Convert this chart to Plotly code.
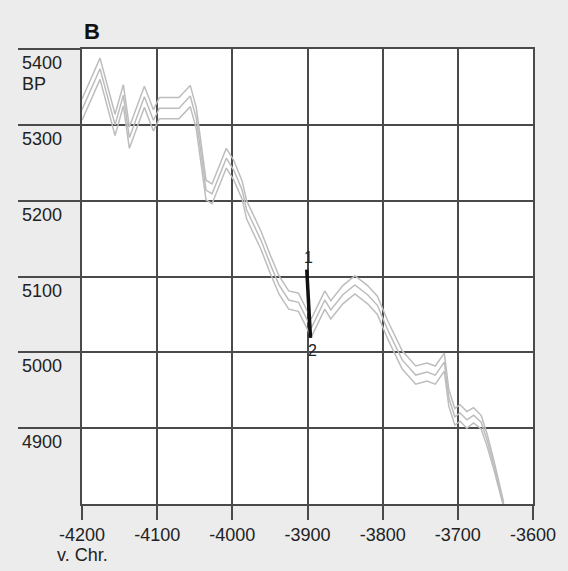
import plotly.graph_objects as go

# Calibration curve (middle line)
cal_bc = [-4200, -4176, -4156, -4145, -4137, -4117, -4105, -4097, -4071, -4056, -4048,
          -4035, -4027, -4008, -3998, -3987, -3981, -3969, -3962, -3949, -3938, -3925,
          -3912, -3895, -3877, -3869, -3853, -3837, -3820, -3807, -3793, -3774, -3756,
          -3741, -3730, -3718, -3712, -3704, -3697, -3688, -3679, -3669, -3661, -3652,
          -3644, -3639]
cal_bp = [5320, 5374, 5300, 5339, 5283, 5337, 5306, 5322, 5322, 5338, 5309,
          5214, 5209, 5256, 5240, 5214, 5188, 5164, 5148, 5115, 5089, 5069,
          5066, 5032, 5069, 5056, 5076, 5089, 5076, 5062, 5029, 4990, 4970,
          4974, 4970, 4987, 4940, 4915, 4920, 4911, 4917, 4908, 4884, 4851,
          4818, 4799]
cal_err = [14, 14, 14, 14, 14, 14, 14, 14, 14, 14, 14,
           13, 13, 13, 13, 12, 12, 12, 12, 12, 12, 12,
           12, 12, 12, 12, 12, 12, 12, 12, 12, 12, 12,
           12, 12, 12, 11, 11, 11, 11, 10, 9, 8, 6,
           4, 3]

# Measured sample range (black bar with end labels)
sample_bc = [-3901, -3896]
sample_bp = [5109, 5019]
sample_labels = ["1", "2"]

x_ticks = [-4200, -4100, -4000, -3900, -3800, -3700, -3600]
x_labels = ["-4200", "-4100", "-4000", "-3900", "-3800", "-3700", "-3600"]
y_ticks = [4900, 5000, 5100, 5200, 5300, 5400]
y_labels = ["4900", "5000", "5100", "5200", "5300", "5400"]

FONT = "Liberation Sans, Arial, sans-serif"
GRID = "#4a4a4a"
CURVE = "#bdbdbd"
TXT = "#222222"

fig = go.Figure()
upper = [b + e for b, e in zip(cal_bp, cal_err)]
lower = [b - e for b, e in zip(cal_bp, cal_err)]
for ys in (upper, cal_bp, lower):
    fig.add_trace(go.Scatter(x=cal_bc, y=ys, mode="lines",
                             line=dict(color=CURVE, width=1.5), hoverinfo="skip",
                             showlegend=False))

fig.add_trace(go.Scatter(x=sample_bc, y=sample_bp, mode="lines",
                         line=dict(color="#111", width=3.5), showlegend=False))

annotations = []
for bx, by, t, ys in zip(sample_bc, sample_bp, sample_labels, (12, -13)):
    annotations.append(dict(xref="x", yref="y", x=bx + 2, y=by, text=t,
                            showarrow=False, xanchor="center", yanchor="middle", yshift=ys,
                            font=dict(family=FONT, size=16, color=TXT)))
for v, t in zip(y_ticks, y_labels):
    annotations.append(dict(xref="paper", yref="y", x=-0.137, y=v, text=t,
                            showarrow=False, xanchor="left", yanchor="top", yshift=-2,
                            font=dict(family=FONT, size=18, color=TXT)))
annotations.append(dict(xref="paper", yref="y", x=-0.137, y=5400, text="BP",
                        showarrow=False, xanchor="left", yanchor="top", yshift=-23,
                        font=dict(family=FONT, size=18, color=TXT)))
annotations.append(dict(xref="x", yref="paper", x=-4200, y=0, text="v. Chr.",
                        showarrow=False, xanchor="center", yanchor="top", yshift=-39,
                        font=dict(family=FONT, size=18, color=TXT)))
annotations.append(dict(xref="paper", yref="paper", x=0.0, y=1.0, text="<b>B</b>",
                        showarrow=False, xanchor="left", yanchor="bottom", yshift=3,
                        font=dict(family=FONT, size=22, color="#111")))

fig.update_layout(
    width=568, height=571,
    margin=dict(l=82, r=33, t=49, b=67),
    paper_bgcolor="#ececec", plot_bgcolor="white",
    annotations=annotations,
    xaxis=dict(range=[-4200, -3600], tickvals=x_ticks, ticktext=x_labels, showgrid=True,
               gridcolor=GRID, gridwidth=1.5, zeroline=False,
               showline=True, mirror=True, linecolor=GRID, linewidth=1.5,
               ticks="outside", ticklen=14, tickwidth=1.5, tickcolor=GRID,
               tickfont=dict(family=FONT, size=18, color=TXT)),
    yaxis=dict(range=[4800, 5400], tickvals=y_ticks, showgrid=True,
               gridcolor=GRID, gridwidth=1.5, zeroline=False,
               showline=True, mirror=True, linecolor=GRID, linewidth=1.5,
               ticks="outside", ticklen=62, tickwidth=1.5, tickcolor=GRID,
               showticklabels=False),
)

fig.write_html("out.html")
